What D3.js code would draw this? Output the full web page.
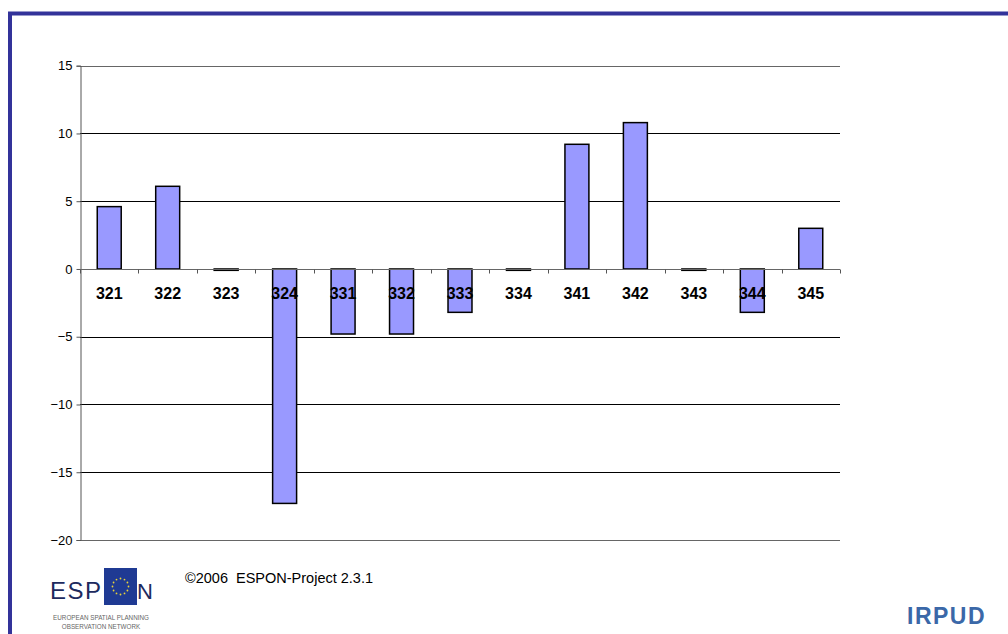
<!DOCTYPE html>
<html><head><meta charset="utf-8">
<script src="https://cdn.jsdelivr.net/npm/d3@7"></script>
<style>body{margin:0;background:#fff;}svg{display:block;font-family:"Liberation Sans",Arial,sans-serif;}</style>
</head><body>
<svg id="c" width="1008" height="634"></svg>
<script>
const categories = ["321","322","323","324","331","332","333","334","341","342","343","344","345"];
const values = [4.6, 6.1, -0.1, -17.3, -4.8, -4.8, -3.2, -0.1, 9.2, 10.8, -0.1, -3.2, 3.0];
const yTicks = [15, 10, 5, 0, -5, -10, -15, -20];
const footerText = "©2006  ESPON-Project 2.3.1";

const svg = d3.select("#c");
// page frame
svg.append("text").attr("x", 4).attr("y", -3).attr("font-size", 16).attr("fill", "#555")
  .text("Figure: Output change by sector, 2000-2020 (percent), Type 3 regions, high-growth scenario, sectoral apportionment");
svg.append("path").attr("d", "M10,1000 V13.5 H1008").attr("fill", "none").attr("stroke", "#33339a").attr("stroke-width", 4);

const x = d3.scaleBand().domain(categories).range([80, 840]).paddingInner(0.59).paddingOuter(0.295);
const y = d3.scaleLinear().domain([-20, 15]).range([540, 65.7]);

// gridlines
svg.append("g").selectAll("line").data(yTicks.filter(d => d !== 0)).join("line")
  .attr("x1", 80).attr("x2", 840).attr("y1", d => Math.round(y(d)) + 0.5).attr("y2", d => Math.round(y(d)) + 0.5)
  .attr("stroke", d => (d === -20 || d === 15) ? "#666" : "#000").attr("stroke-width", 1);

// bars
svg.append("g").selectAll("rect").data(values).join("rect")
  .attr("x", (d, i) => x(categories[i]))
  .attr("width", x.bandwidth())
  .attr("y", d => y(Math.max(0, d)))
  .attr("height", d => Math.abs(y(d) - y(0)))
  .attr("fill", "#9999ff").attr("stroke", "#000").attr("stroke-width", 1.5);

// y axis
const yAxis = d3.axisLeft(y).tickValues(yTicks).tickSize(4).tickPadding(4);
const gy = svg.append("g").attr("transform", "translate(80.5,0)").call(yAxis);
gy.select(".domain").attr("stroke", "#555");
gy.selectAll(".tick line").attr("stroke", "#555");
gy.selectAll(".tick text").attr("font-size", 13).attr("fill", "#000").attr("font-family", "Liberation Sans, Arial, sans-serif");

// x axis at zero
const y0 = Math.round(y(0)) + 0.5;
svg.append("line").attr("x1", 80).attr("x2", 840).attr("y1", y0).attr("y2", y0).attr("stroke", "#666");
const bounds = d3.range(categories.length + 1).map(i => 80 + i * (760 / categories.length));
svg.append("g").selectAll("line").data(bounds).join("line")
  .attr("x1", d => Math.round(d) + 0.5).attr("x2", d => Math.round(d) + 0.5)
  .attr("y1", y0).attr("y2", y0 + 4).attr("stroke", "#555");
svg.append("g").selectAll("text").data(categories).join("text")
  .attr("x", d => x(d) + x.bandwidth() / 2).attr("y", y0 + 29)
  .attr("text-anchor", "middle").attr("font-size", 16).attr("font-weight", "bold").attr("fill", "#000")
  .text(d => d);

// footer: ESPON logo
const logo = svg.append("g");
logo.append("text").attr("x", 50).attr("y", 599).attr("font-size", 24).attr("fill", "#1d2a5e")
  .attr("letter-spacing", 1.5).text("ESP");
logo.append("rect").attr("x", 104).attr("y", 568).attr("width", 33).attr("height", 37).attr("fill", "#1f3a93");
const stars = d3.range(12).map(i => [120.5 + 8 * Math.cos(i * Math.PI / 6), 586.5 + 8 * Math.sin(i * Math.PI / 6)]);
logo.append("g").selectAll("circle").data(stars).join("circle")
  .attr("cx", d => d[0]).attr("cy", d => d[1]).attr("r", 0.9).attr("fill", "#e8d23a");
logo.append("text").attr("x", 137).attr("y", 599).attr("font-size", 22).attr("fill", "#1d2a5e").text("N");
logo.append("text").attr("x", 101).attr("y", 620).attr("font-size", 6.3).attr("fill", "#666").attr("text-anchor", "middle").text("EUROPEAN SPATIAL PLANNING");
logo.append("text").attr("x", 101).attr("y", 629).attr("font-size", 6.3).attr("fill", "#666").attr("text-anchor", "middle").text("OBSERVATION NETWORK");

svg.append("text").attr("x", 185).attr("y", 583).attr("font-size", 14.5).attr("fill", "#000")
  .style("white-space", "pre").text(footerText);
svg.append("text").attr("x", 907).attr("y", 624).attr("font-size", 23).attr("font-weight", "bold").attr("fill", "#3b68a8").attr("letter-spacing", 1.5).text("IRPUD");
</script>
</body></html>
